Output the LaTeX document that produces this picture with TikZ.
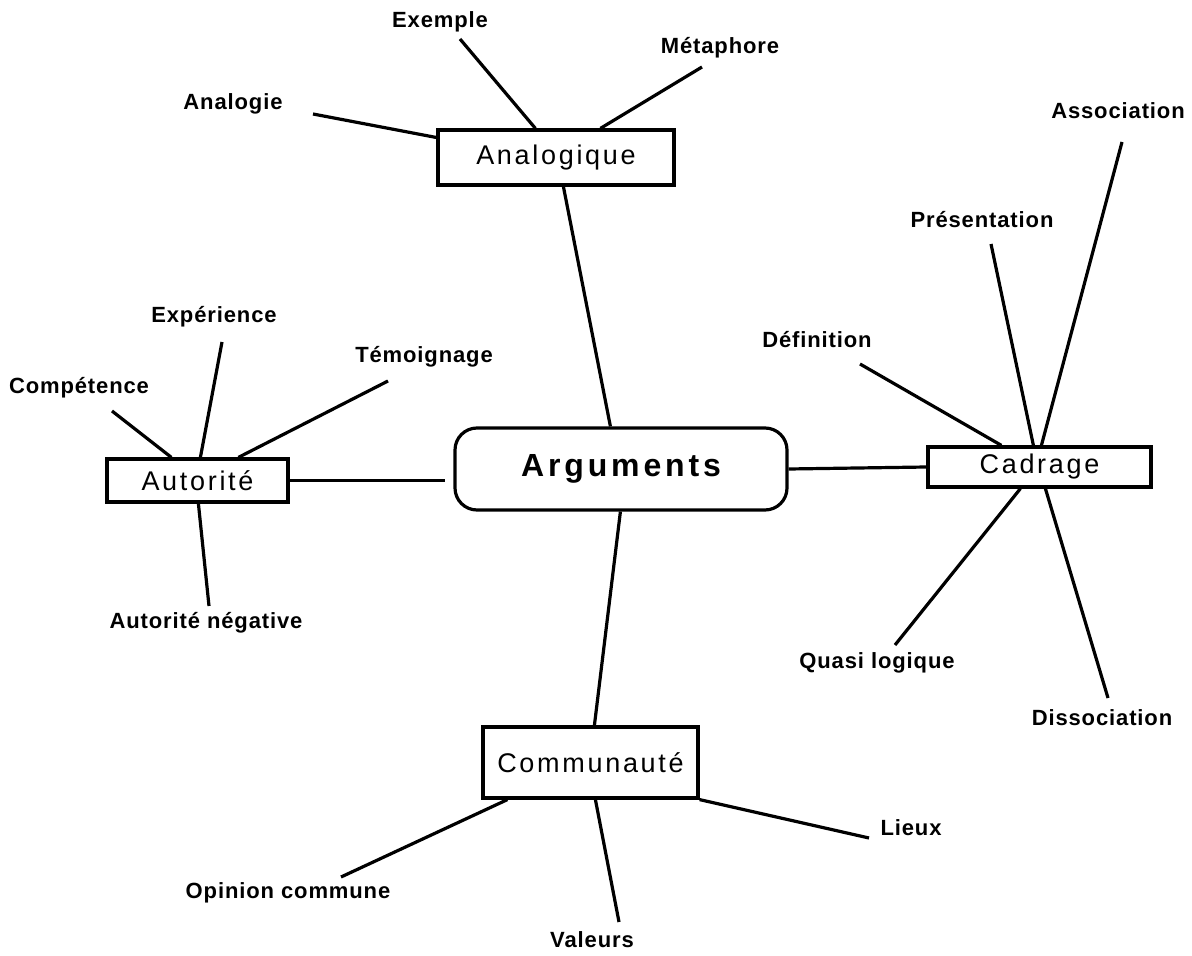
\documentclass[tikz,border=0pt]{standalone}
\usepackage{fontspec}
\setmainfont{Liberation Sans}
\newfontfamily\labfont[LetterSpace=4]{Liberation Sans}
\newfontfamily\boxfont[LetterSpace=10]{Liberation Sans}
\newfontfamily\argfont[LetterSpace=12]{Liberation Sans}
\usetikzlibrary{calc}
\begin{document}
\begin{tikzpicture}[x=0.5pt,y=-0.5pt,
  lab/.style={font={\labfont\bfseries\fontsize{11}{13}\selectfont}, inner sep=0pt},
  box/.style={draw, line width=1.6pt, inner sep=0pt, font={\boxfont\fontsize{13.5}{16}\selectfont}},
  argbox/.style={draw, line width=1.6pt, inner sep=0pt, rounded corners=11pt, font={\argfont\bfseries\fontsize{16}{19}\selectfont}},
  conn/.style={line width=1.6pt}]
\fill[white] (0,0) rectangle (1192,956);
\useasboundingbox (0,0) rectangle (1192,956);

% boxes
\node[box, minimum width=118pt, minimum height=27.5pt] (ana) at (556,157.5) {Analogique};
\node[argbox, minimum width=166pt, minimum height=41pt] (arg) at (621,469) {Arguments};
\node[box, minimum width=90.5pt, minimum height=21.5pt] (aut) at (197.5,480.5) {Autorité};
\node[box, minimum width=111.5pt, minimum height=20pt] (cad) at (1039.5,467) {Cadrage};
\node[box, minimum width=107.5pt, minimum height=35.5pt] (com) at (590.5,762.5) {Communauté};

% labels
\node[lab] (lAnalogie) at (233,104) {Analogie};
\node[lab] (lExemple) at (440,22) {Exemple};
\node[lab] (lMetaphore) at (720,48) {Métaphore};
\node[lab] (lCompetence) at (79,388) {Compétence};
\node[lab] (lExperience) at (214,317) {Expérience};
\node[lab] (lTemoignage) at (424,357) {Témoignage};
\node[lab] (lAutNeg) at (206,623) {Autorité négative};
\node[lab] (lDefinition) at (817,340) {Définition};
\node[lab] (lPresentation) at (982,220) {Présentation};
\node[lab] (lAssociation) at (1118,111) {Association};
\node[lab] (lQuasi) at (877,663) {Quasi logique};
\node[lab] (lDissociation) at (1102,718) {Dissociation};
\node[lab] (lOpinion) at (288,893) {Opinion commune};
\node[lab] (lValeurs) at (592,940) {Valeurs};
\node[lab] (lLieux) at (911,828) {Lieux};

% free ends of connectors
\coordinate (eAnalogie) at (313,114);
\coordinate (eExemple) at (460,39);
\coordinate (eMetaphore) at (702,67);
\coordinate (eCompetence) at (112,411);
\coordinate (eExperience) at (222,342);
\coordinate (eTemoignage) at (388,381);
\coordinate (eAutNeg) at (209,606);
\coordinate (eDefinition) at (860,364);
\coordinate (ePresentation) at (991,244);
\coordinate (eAssociation) at (1122,142);
\coordinate (eQuasi) at (895,645);
\coordinate (eDissociation) at (1108,698);
\coordinate (eOpinion) at (341,877);
\coordinate (eValeurs) at (619,922);
\coordinate (eLieux) at (869,838);

% main connectors
\draw[conn] ($(ana.south west)+(127,0)$) -- ($(arg.north west)+(157,0)$);
\draw[conn, shorten >=4pt] (aut.east) -- (aut.east -| arg.west);
\draw[conn] (arg.east) -- (cad.west);
\draw[conn] ($(arg.south west)+(167,0)$) -- ($(com.north west)+(113,0)$);

% Analogique
\draw[conn] (eAnalogie) -- ($(ana.west)+(0,-20)$);
\draw[conn] (eExemple) -- ($(ana.north west)+(99,0)$);
\draw[conn] (eMetaphore) -- ($(ana.north west)+(164,0)$);

% Autorite
\draw[conn] (eCompetence) -- ($(aut.north west)+(66,0)$);
\draw[conn] (eExperience) -- ($(aut.north west)+(95,0)$);
\draw[conn] (eTemoignage) -- ($(aut.north west)+(133,0)$);
\draw[conn] ($(aut.south west)+(93,0)$) -- (eAutNeg);

% Cadrage
\draw[conn] (eDefinition) -- ($(cad.north west)+(75,0)$);
\draw[conn] (ePresentation) -- ($(cad.north west)+(107,0)$);
\draw[conn] (eAssociation) -- ($(cad.north west)+(115,0)$);
\draw[conn] ($(cad.south west)+(94,0)$) -- (eQuasi);
\draw[conn] ($(cad.south west)+(119,0)$) -- (eDissociation);

% Communaute
\draw[conn] ($(com.south west)+(26,0)$) -- (eOpinion);
\draw[conn] ($(com.south west)+(114,0)$) -- (eValeurs);
\draw[conn] (com.south east) -- (eLieux);
\end{tikzpicture}
\end{document}
